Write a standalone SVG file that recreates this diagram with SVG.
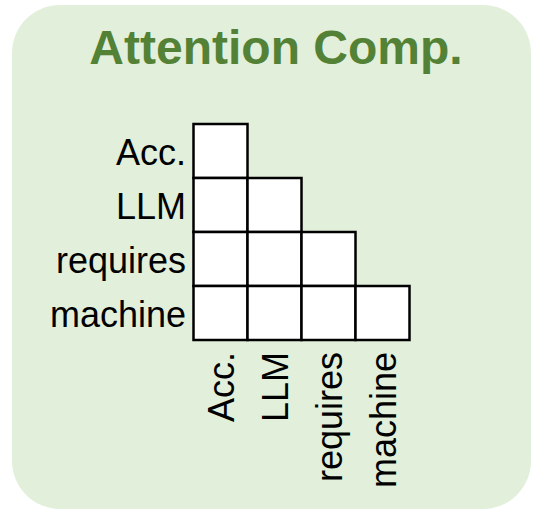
<svg xmlns="http://www.w3.org/2000/svg" width="536" height="510" viewBox="0 0 536 510">
  <style>
    .title { font-family: "Liberation Sans", Arial, sans-serif; font-size: 48px; font-weight: bold; fill: #538135; }
    .lbl { font-family: "Liberation Sans", Arial, sans-serif; font-size: 36px; fill: #000000; }
    .cell { fill: #ffffff; stroke: #000000; stroke-width: 2.5; }
  </style>
  <!-- panel background -->
  <rect id="panel" x="12" y="5" width="519" height="504" rx="48" ry="48" fill="#E2EFDA"/>
  <text class="title" x="276" y="64" text-anchor="middle">Attention Comp.</text>

  <!-- row labels -->
  <g id="row-labels" class="lbl" text-anchor="end">
    <text x="186" y="165">Acc.</text>
    <text x="186" y="219">LLM</text>
    <text x="186" y="273">requires</text>
    <text x="186" y="327">machine</text>
  </g>

  <!-- lower-triangular attention grid -->
  <g id="grid">
    <rect class="cell" x="193.5" y="124" width="54" height="54"/>
    <rect class="cell" x="193.5" y="178" width="54" height="54"/>
    <rect class="cell" x="247.5" y="178" width="54" height="54"/>
    <rect class="cell" x="193.5" y="232" width="54" height="54"/>
    <rect class="cell" x="247.5" y="232" width="54" height="54"/>
    <rect class="cell" x="301.5" y="232" width="54" height="54"/>
    <rect class="cell" x="193.5" y="286" width="54" height="54"/>
    <rect class="cell" x="247.5" y="286" width="54" height="54"/>
    <rect class="cell" x="301.5" y="286" width="54" height="54"/>
    <rect class="cell" x="355.5" y="286" width="54" height="54"/>
  </g>

  <!-- column labels, rotated -->
  <g id="col-labels" class="lbl" text-anchor="end">
    <text x="233.5" y="352" transform="rotate(-90 233.5 352)">Acc.</text>
    <text x="287.5" y="352" transform="rotate(-90 287.5 352)">LLM</text>
    <text x="341.5" y="352" transform="rotate(-90 341.5 352)">requires</text>
    <text x="395.5" y="352" transform="rotate(-90 395.5 352)">machine</text>
  </g>
</svg>
